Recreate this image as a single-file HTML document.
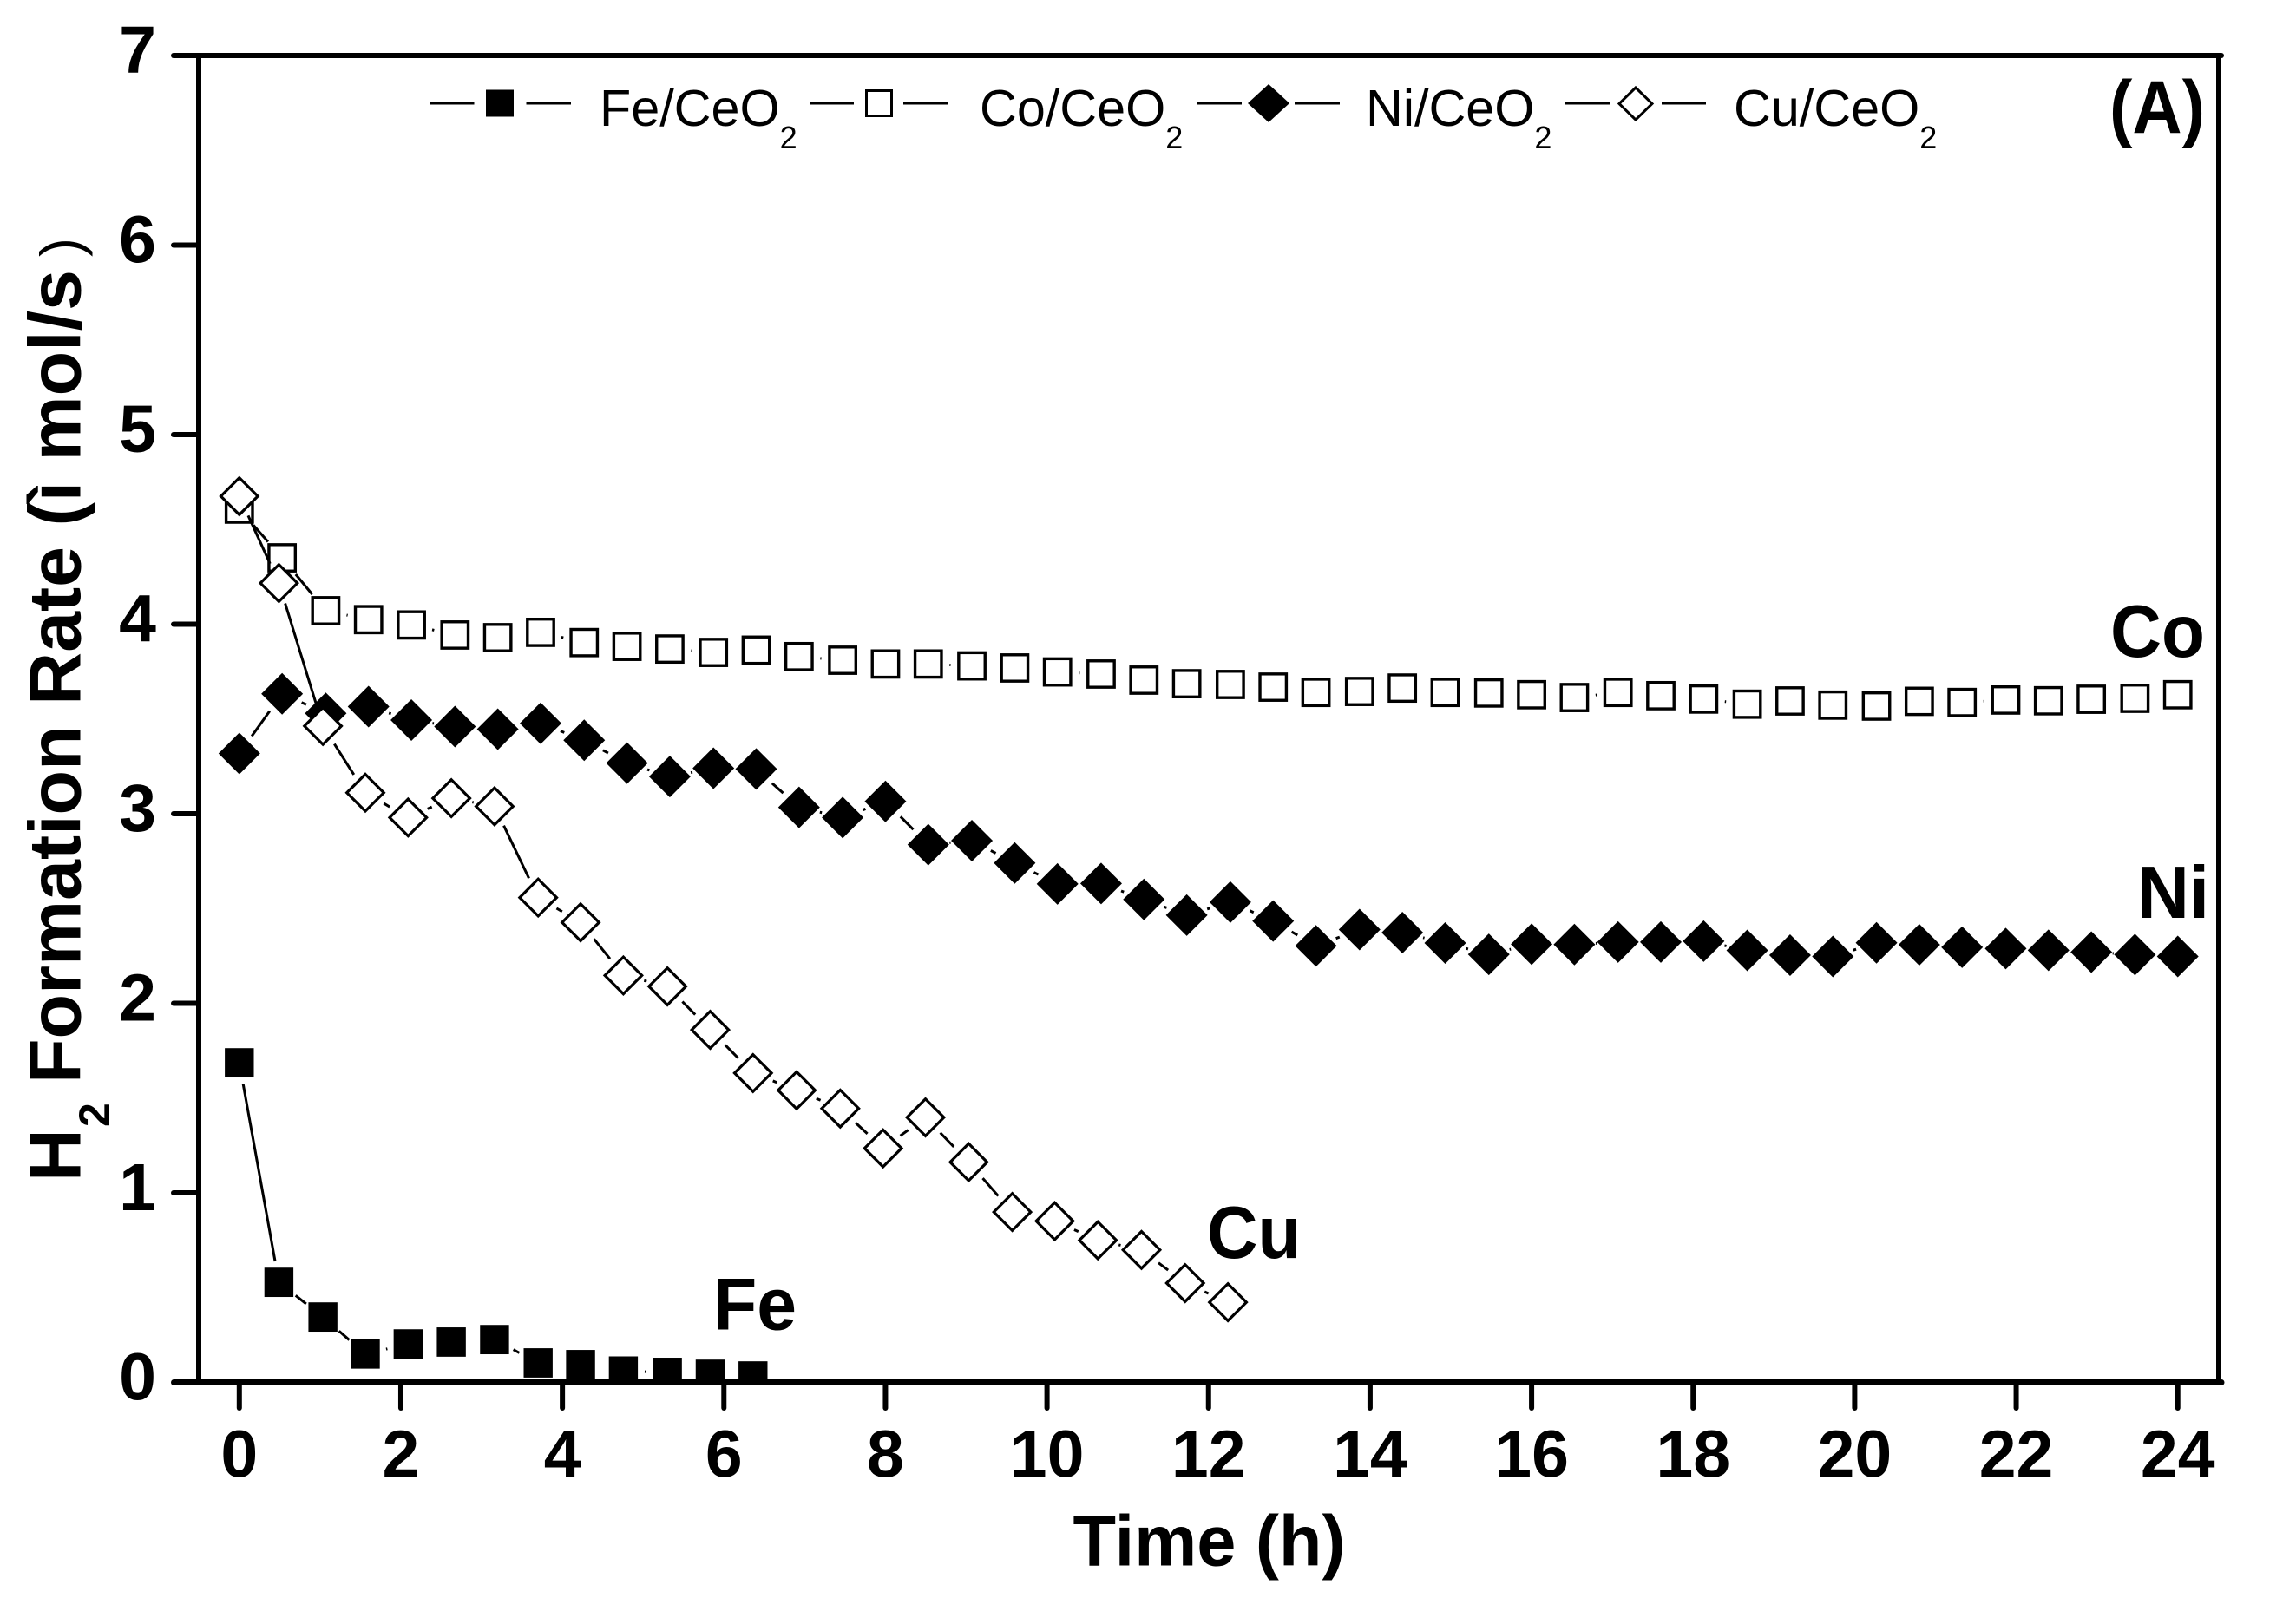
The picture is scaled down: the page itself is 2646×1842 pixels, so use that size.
<!DOCTYPE html>
<html lang="en">
<head>
<meta charset="utf-8">
<title>H2 Formation Rate vs Time</title>
<style>
  html, body { margin: 0; padding: 0; background: #fff; width: 2646px; height: 1842px; overflow: hidden; }
  svg { display: block; }
  text { fill: #000; font-family: "Liberation Sans", Arial, sans-serif; }
  .b { font-weight: 700; }
</style>
</head>
<body>
<svg id="chart" xmlns="http://www.w3.org/2000/svg" width="2646" height="1842" viewBox="0 0 2646 1842">
  <rect x="0" y="0" width="2646" height="1842" fill="#fff"/>
  <defs>
    <clipPath id="plot-clip"><rect x="232" y="64" width="2325" height="1533"/></clipPath>
  </defs>
  <g id="marks" clip-path="url(#plot-clip)"></g>
  <g id="axes"></g>

  <text class="b" x="1393.5" y="1804.5" font-size="83" text-anchor="middle" textLength="314" lengthAdjust="spacingAndGlyphs">Time (h)</text>

  <g>
    <text class="b" transform="translate(92.5,1362) rotate(-90)" font-size="84">H</text>
    <text class="b" transform="translate(126,1299) rotate(-90)" font-size="50">2</text>
    <text class="b" transform="translate(92.5,1249) rotate(-90)" font-size="84" textLength="938" lengthAdjust="spacingAndGlyphs">Formation Rate (ì mol/s</text>
    <text transform="translate(93,296) rotate(-90)" font-size="66">)</text>
  </g>

  <text class="b" x="2431" y="153" font-size="86" textLength="110" lengthAdjust="spacingAndGlyphs">(A)</text>
  <text class="b" x="2432" y="757" font-size="85" textLength="109" lengthAdjust="spacingAndGlyphs">Co</text>
  <text class="b" x="2546" y="1058" font-size="85" text-anchor="end" textLength="83" lengthAdjust="spacingAndGlyphs">Ni</text>
  <text class="b" x="1391" y="1450" font-size="85" textLength="108" lengthAdjust="spacingAndGlyphs">Cu</text>
  <text class="b" x="822" y="1532.7" font-size="85" textLength="96" lengthAdjust="spacingAndGlyphs">Fe</text>

  <g>
    <g>
      <line x1="495.5" y1="119" x2="546.5" y2="119" stroke="#000" stroke-width="3"/>
      <rect x="560" y="103.5" width="32" height="31" fill="#000"/>
      <line x1="606.5" y1="119" x2="658" y2="119" stroke="#000" stroke-width="3"/>
      <text x="691" y="145" font-size="59.3">Fe/CeO<tspan font-size="36" dy="26">2</tspan></text>
    </g>
    <g>
      <line x1="933" y1="119" x2="984" y2="119" stroke="#000" stroke-width="3"/>
      <rect x="998.5" y="104.5" width="29" height="29" fill="#fff" stroke="#000" stroke-width="3"/>
      <line x1="1041" y1="119" x2="1093" y2="119" stroke="#000" stroke-width="3"/>
      <text x="1129" y="145" font-size="59.3">Co/CeO<tspan font-size="36" dy="26">2</tspan></text>
    </g>
    <g>
      <line x1="1380" y1="119" x2="1431" y2="119" stroke="#000" stroke-width="3"/>
      <polygon points="1462,97 1486,119 1462,141 1438,119" fill="#000"/>
      <line x1="1492" y1="119" x2="1544" y2="119" stroke="#000" stroke-width="3"/>
      <text x="1574" y="145" font-size="59.3">Ni/CeO<tspan font-size="36" dy="26">2</tspan></text>
    </g>
    <g>
      <line x1="1804" y1="119" x2="1855" y2="119" stroke="#000" stroke-width="3"/>
      <polygon points="1885,101 1904,119.5 1885,138 1866,119.5" fill="#fff" stroke="#000" stroke-width="3"/>
      <line x1="1915" y1="119" x2="1966" y2="119" stroke="#000" stroke-width="3"/>
      <text x="1998" y="145" font-size="59.3">Cu/CeO<tspan font-size="36" dy="26">2</tspan></text>
    </g>
  </g>
</svg>

<script>
const coNiTimeHours = [0,0.53,1.07,1.6,2.13,2.67,3.2,3.73,4.27,4.8,5.33,5.87,6.4,6.93,7.47,8,8.53,9.07,9.6,10.13,10.67,11.2,11.73,12.27,12.8,13.33,13.87,14.4,14.93,15.47,16,16.53,17.07,17.6,18.13,18.67,19.2,19.73,20.27,20.8,21.33,21.87,22.4,22.93,23.47,24];
const feCuTimeHours = [0,0.49,1.035,1.56,2.09,2.625,3.16,3.7,4.225,4.755,5.3,5.83,6.36,6.9,7.44,7.97,8.495,9.03,9.57,10.095,10.63,11.17,11.71,12.24];
const feRate = [1.686,0.528,0.345,0.15,0.203,0.213,0.226,0.103,0.094,0.06,0.053,0.043,0.034];
const coRate = [4.607,4.35,4.071,4.024,3.996,3.943,3.929,3.957,3.903,3.883,3.869,3.851,3.863,3.829,3.81,3.79,3.79,3.78,3.769,3.748,3.737,3.705,3.686,3.682,3.668,3.64,3.645,3.663,3.64,3.637,3.628,3.613,3.64,3.623,3.605,3.578,3.595,3.573,3.568,3.593,3.587,3.6,3.596,3.604,3.609,3.628];
const niRate = [3.318,3.633,3.53,3.565,3.494,3.46,3.446,3.477,3.388,3.267,3.196,3.24,3.236,3.034,2.98,3.065,2.837,2.858,2.74,2.63,2.632,2.548,2.465,2.534,2.434,2.303,2.389,2.373,2.318,2.258,2.312,2.31,2.323,2.323,2.328,2.279,2.254,2.247,2.319,2.309,2.296,2.289,2.28,2.27,2.257,2.247];
const cuRate = [4.675,4.217,3.463,3.111,2.98,3.082,3.039,2.558,2.427,2.147,2.089,1.86,1.632,1.541,1.445,1.235,1.398,1.162,0.899,0.851,0.75,0.699,0.524,0.423];
const xTickValues = [0,2,4,6,8,10,12,14,16,18,20,22,24];
const yTickValues = [0,1,2,3,4,5,6,7];

const NS = 'http://www.w3.org/2000/svg';
const xScale = function (t) { return 275.8 + t * 93.08; };
const yScale = function (v) { return 1593.5 - v * 218.5; };
const marksLayer = document.getElementById('marks');
const axesLayer = document.getElementById('axes');
const LINE_GAP = 24.6;

function make(tag, parent, attrs) {
  const el = document.createElementNS(NS, tag);
  for (const k in attrs) el.setAttribute(k, attrs[k]);
  parent.appendChild(el);
  return el;
}

function drawSeries(times, values, key, shape) {
  const group = make('g', marksLayer, {});
  
  
  for (let i = 0; i < values.length - 1; i++) {
    const x1 = xScale(times[i]), y1 = yScale(values[i]);
    const x2 = xScale(times[i + 1]), y2 = yScale(values[i + 1]);
    const d = Math.hypot(x2 - x1, y2 - y1);
    if (d < 50.3) continue;
    const ux = (x2 - x1) / d, uy = (y2 - y1) / d;
    const seg = make('line', group, {
      x1: x1 + ux * LINE_GAP, y1: y1 + uy * LINE_GAP,
      x2: x2 - ux * LINE_GAP, y2: y2 - uy * LINE_GAP,
      stroke: '#000', 'stroke-width': 3
    });
    
    
  }
  values.forEach(function (v, i) {
    const cx = xScale(times[i]), cy = yScale(v);
    let m;
    if (shape === 'filled-square') {
      m = make('rect', group, { x: cx - 16.7, y: cy - 16.9, width: 33.4, height: 33.8, fill: '#000' });
    } else if (shape === 'open-square') {
      m = make('rect', group, { x: cx - 15.2, y: cy - 15.2, width: 30.4, height: 30.4, fill: '#fff', stroke: '#000', 'stroke-width': 3.4 });
    } else if (shape === 'filled-diamond') {
      const r = 24;
      m = make('polygon', group, { points: cx + ',' + (cy - r) + ' ' + (cx + r) + ',' + cy + ' ' + cx + ',' + (cy + r) + ' ' + (cx - r) + ',' + cy, fill: '#000' });
    } else {
      const r = 21.3;
      m = make('polygon', group, { points: cx + ',' + (cy - r) + ' ' + (cx + r) + ',' + cy + ' ' + cx + ',' + (cy + r) + ' ' + (cx - r) + ',' + cy, fill: '#fff', stroke: '#000', 'stroke-width': 3.2 });
    }
    
    
  });
}

drawSeries(feCuTimeHours, feRate, 'fe', 'filled-square');
drawSeries(coNiTimeHours, coRate, 'co', 'open-square');
drawSeries(coNiTimeHours, niRate, 'ni', 'filled-diamond');
drawSeries(feCuTimeHours, cuRate, 'cu', 'open-diamond');

const topAxis = make('line', axesLayer, { x1: 200, y1: 64, x2: 2560, y2: 64, stroke: '#000', 'stroke-width': 6, 'stroke-linecap': 'round' });


const bottomAxis = make('line', axesLayer, { x1: 200.5, y1: 1593.5, x2: 2560, y2: 1593.5, stroke: '#000', 'stroke-width': 7, 'stroke-linecap': 'round' });


const leftAxis = make('line', axesLayer, { x1: 229, y1: 64, x2: 229, y2: 1593, stroke: '#000', 'stroke-width': 6 });


const rightAxis = make('line', axesLayer, { x1: 2557, y1: 61, x2: 2557, y2: 1597, stroke: '#000', 'stroke-width': 6 });



xTickValues.forEach(function (t) {
  const px = xScale(t);
  const tick = make('line', axesLayer, { x1: px, y1: 1596, x2: px, y2: 1623, stroke: '#000', 'stroke-width': 6, 'stroke-linecap': 'round' });
  
  
  const label = make('text', axesLayer, { x: px, y: 1702.5, 'font-size': 77, 'text-anchor': 'middle', class: 'b' });
  
  
  label.textContent = String(t);
});

yTickValues.forEach(function (v) {
  const py = yScale(v);
  if (v > 0 && v < 7) {
    const tick = make('line', axesLayer, { x1: 200, y1: py, x2: 229, y2: py, stroke: '#000', 'stroke-width': 6, 'stroke-linecap': 'round' });
    
    
  }
  const label = make('text', axesLayer, { x: 180, y: py + 20, 'font-size': 77, 'text-anchor': 'end', class: 'b' });
  
  
  label.textContent = String(v);
});
</script>
</body>
</html>
